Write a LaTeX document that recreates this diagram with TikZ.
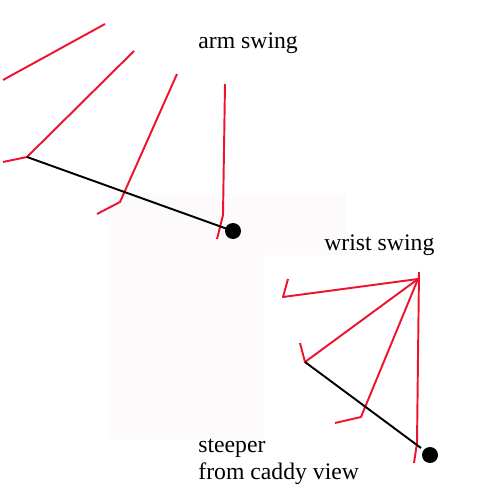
\documentclass[tikz,border=0pt]{standalone}
\usepackage{fontspec}
\setmainfont{Liberation Serif}
\usepackage{xcolor}
\usepackage{tikz}
\usetikzlibrary{calc}
\definecolor{club}{RGB}{238,18,45}
\definecolor{backdrop}{RGB}{252,250,251}

\begin{document}
\begin{tikzpicture}[x=0.02cm,y=-0.02cm,
  shaft/.style={draw=club,line width=1.1pt,line join=round},
  arm/.style={draw=black,line width=1.1pt},
  ball/.style={fill=black},
  lbl/.style={font=\fontsize{13.5}{15.3}\selectfont,inner sep=0pt,align=left}
]
\useasboundingbox (0,0) rectangle (500,500);
\fill[backdrop] (108,193) -- (345,193) -- (345,255) -- (263,255) -- (263,439) -- (108,439) -- cycle;

% arm swing
\coordinate (ahand) at (27,157);
\coordinate (aball) at (233,231);
\draw[shaft] (3,80) -- (105,24);
\draw[shaft] (3,162) -- (ahand) -- (134,51);
\draw[shaft] (97,214) -- (120,202) -- (177,74);
\draw[shaft] (217,239) -- (223,215) -- (225,84);
\draw[arm] (ahand) -- (aball);
\fill[ball] (aball) circle (8);
\node[lbl,anchor=base west] (armlbl) at (198,49) {arm swing};

% wrist swing
\coordinate (wtop) at (418,279);
\coordinate (whand) at (305,362);
\coordinate (wball) at (430,455);
\draw[shaft] (288,279) -- (283,297) -- (wtop);
\draw[shaft] (300,343) -- (whand) -- (wtop);
\draw[shaft] (335,423) -- (361,417) -- (wtop);
\draw[shaft] (414,463) -- (417,443) -- (419,272);
\draw[arm] (whand) -- (421,448);
\fill[ball] (wball) circle (8);
\node[lbl,anchor=base west] (wristlbl) at (324,250) {wrist swing};

\node[lbl,anchor=north west] (steeplbl) at (198,439) {steeper\\from caddy view};
\end{tikzpicture}
\end{document}
